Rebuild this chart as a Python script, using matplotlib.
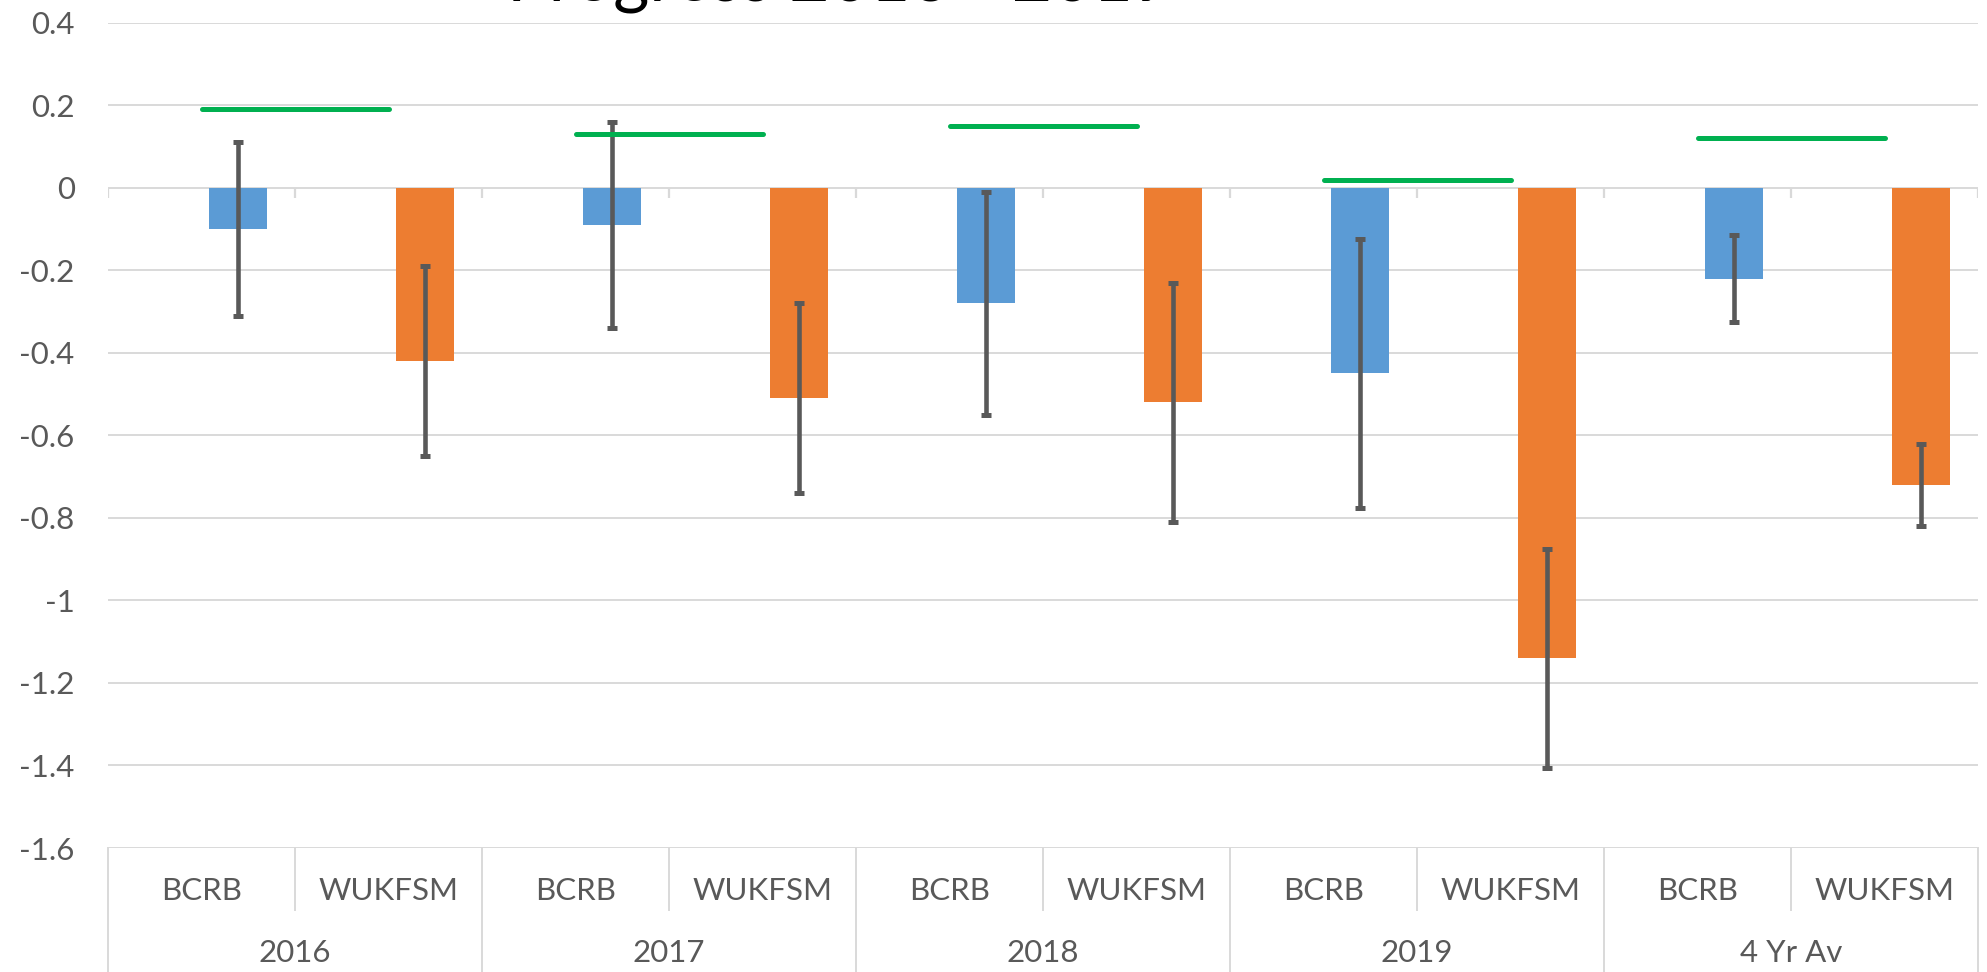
import matplotlib
matplotlib.use("Agg")
import matplotlib.pyplot as plt
import numpy as np

plt.rcParams['font.family'] = ['Lato', 'DejaVu Sans']

# ---- data ----
years = ["2016", "2017", "2018", "2019", "4 Yr Av"]
groups = ["BCRB", "WUKFSM"]
bcrb = [-0.10, -0.09, -0.28, -0.45, -0.22]
bcrb_err = [0.21, 0.25, 0.27, 0.325, 0.105]
wukfsm = [-0.42, -0.51, -0.52, -1.14, -0.72]
wukfsm_err = [0.23, 0.23, 0.29, 0.265, 0.10]
target = [0.19, 0.13, 0.15, 0.02, 0.12]
yticks = [0.4, 0.2, 0, -0.2, -0.4, -0.6, -0.8, -1, -1.2, -1.4, -1.6]
ytick_labels = ["0.4", "0.2", "0", "-0.2", "-0.4", "-0.6", "-0.8", "-1", "-1.2", "-1.4", "-1.6"]
title = "Progress 2016 - 2019"

# ---- style ----
C_BLUE = "#5B9BD5"
C_ORANGE = "#ED7D31"
C_GREEN = "#00B050"
C_ERR = "#595959"
C_GRID = "#D9D9D9"
C_TEXT = "#595959"
FS = 22.5

W, H = 1987, 972
fig = plt.figure(figsize=(W / 100, H / 100), dpi=100)
left, right = 108 / W, 1978 / W
top, bottom = 1 - 22.7 / H, 1 - 848 / H
ax = fig.add_axes([left, bottom, right - left, top - bottom])

n = len(years)
cat_centers_b = np.arange(n) * 2 + 0.5
cat_centers_w = np.arange(n) * 2 + 1.5
off = 0.195
bw = 0.31

ax.bar(cat_centers_b + off, bcrb, width=bw, color=C_BLUE, zorder=2)
ax.bar(cat_centers_w + off, wukfsm, width=bw, color=C_ORANGE, zorder=2)
ax.errorbar(cat_centers_b + off, bcrb, yerr=bcrb_err, fmt='none', ecolor=C_ERR,
            elinewidth=3.3, capsize=3.8, capthick=3.6, zorder=3)
ax.errorbar(cat_centers_w + off, wukfsm, yerr=wukfsm_err, fmt='none', ecolor=C_ERR,
            elinewidth=3.3, capsize=3.8, capthick=3.6, zorder=3)
for xb, xw, t in zip(cat_centers_b, cat_centers_w, target):
    ax.plot([xb, xw], [t, t], color=C_GREEN, lw=3.6, solid_capstyle='round', zorder=4)

ax.set_xlim(0, 2 * n)
ax.set_ylim(-1.6, 0.4)
ax.set_yticks(yticks)
ax.set_yticklabels(ytick_labels)
ax.tick_params(axis='y', length=0, pad=24, labelsize=FS, labelcolor=C_TEXT)
ax.set_xticks([])
ax.yaxis.grid(True, color=C_GRID, lw=1.4)
ax.set_axisbelow(True)
for s in ax.spines.values():
    s.set_visible(False)

# small tick marks on the zero line at every sub-category boundary
bounds = np.arange(2 * n + 1)
ax.vlines(bounds, -10 / 412.6, 0, color=C_GRID, lw=1.6, zorder=1)

# multi-level category axis
trans = ax.get_xaxis_transform()
axh = (848 - 22.7)
inner = np.arange(n) * 2 + 1
outer = np.arange(n + 1) * 2
for x in inner:
    ax.plot([x, x], [0, -62 / axh], color=C_GRID, lw=1.4, transform=trans, clip_on=False)
for x in outer:
    ax.plot([x, x], [0, -130 / axh], color=C_GRID, lw=1.4, transform=trans, clip_on=False)
for i in range(n):
    ax.text(cat_centers_b[i], -43 / axh, groups[0], transform=trans, ha='center', va='center',
            fontsize=FS, color=C_TEXT)
    ax.text(cat_centers_w[i], -43 / axh, groups[1], transform=trans, ha='center', va='center',
            fontsize=FS, color=C_TEXT)
    ax.text(inner[i], -105 / axh, years[i], transform=trans, ha='center', va='center',
            fontsize=FS, color=C_TEXT)

fig.text(840 / W, 1 - 2 / H, title, ha='center', va='baseline', fontsize=50, color='black')

fig.savefig("out.png", dpi=100)
